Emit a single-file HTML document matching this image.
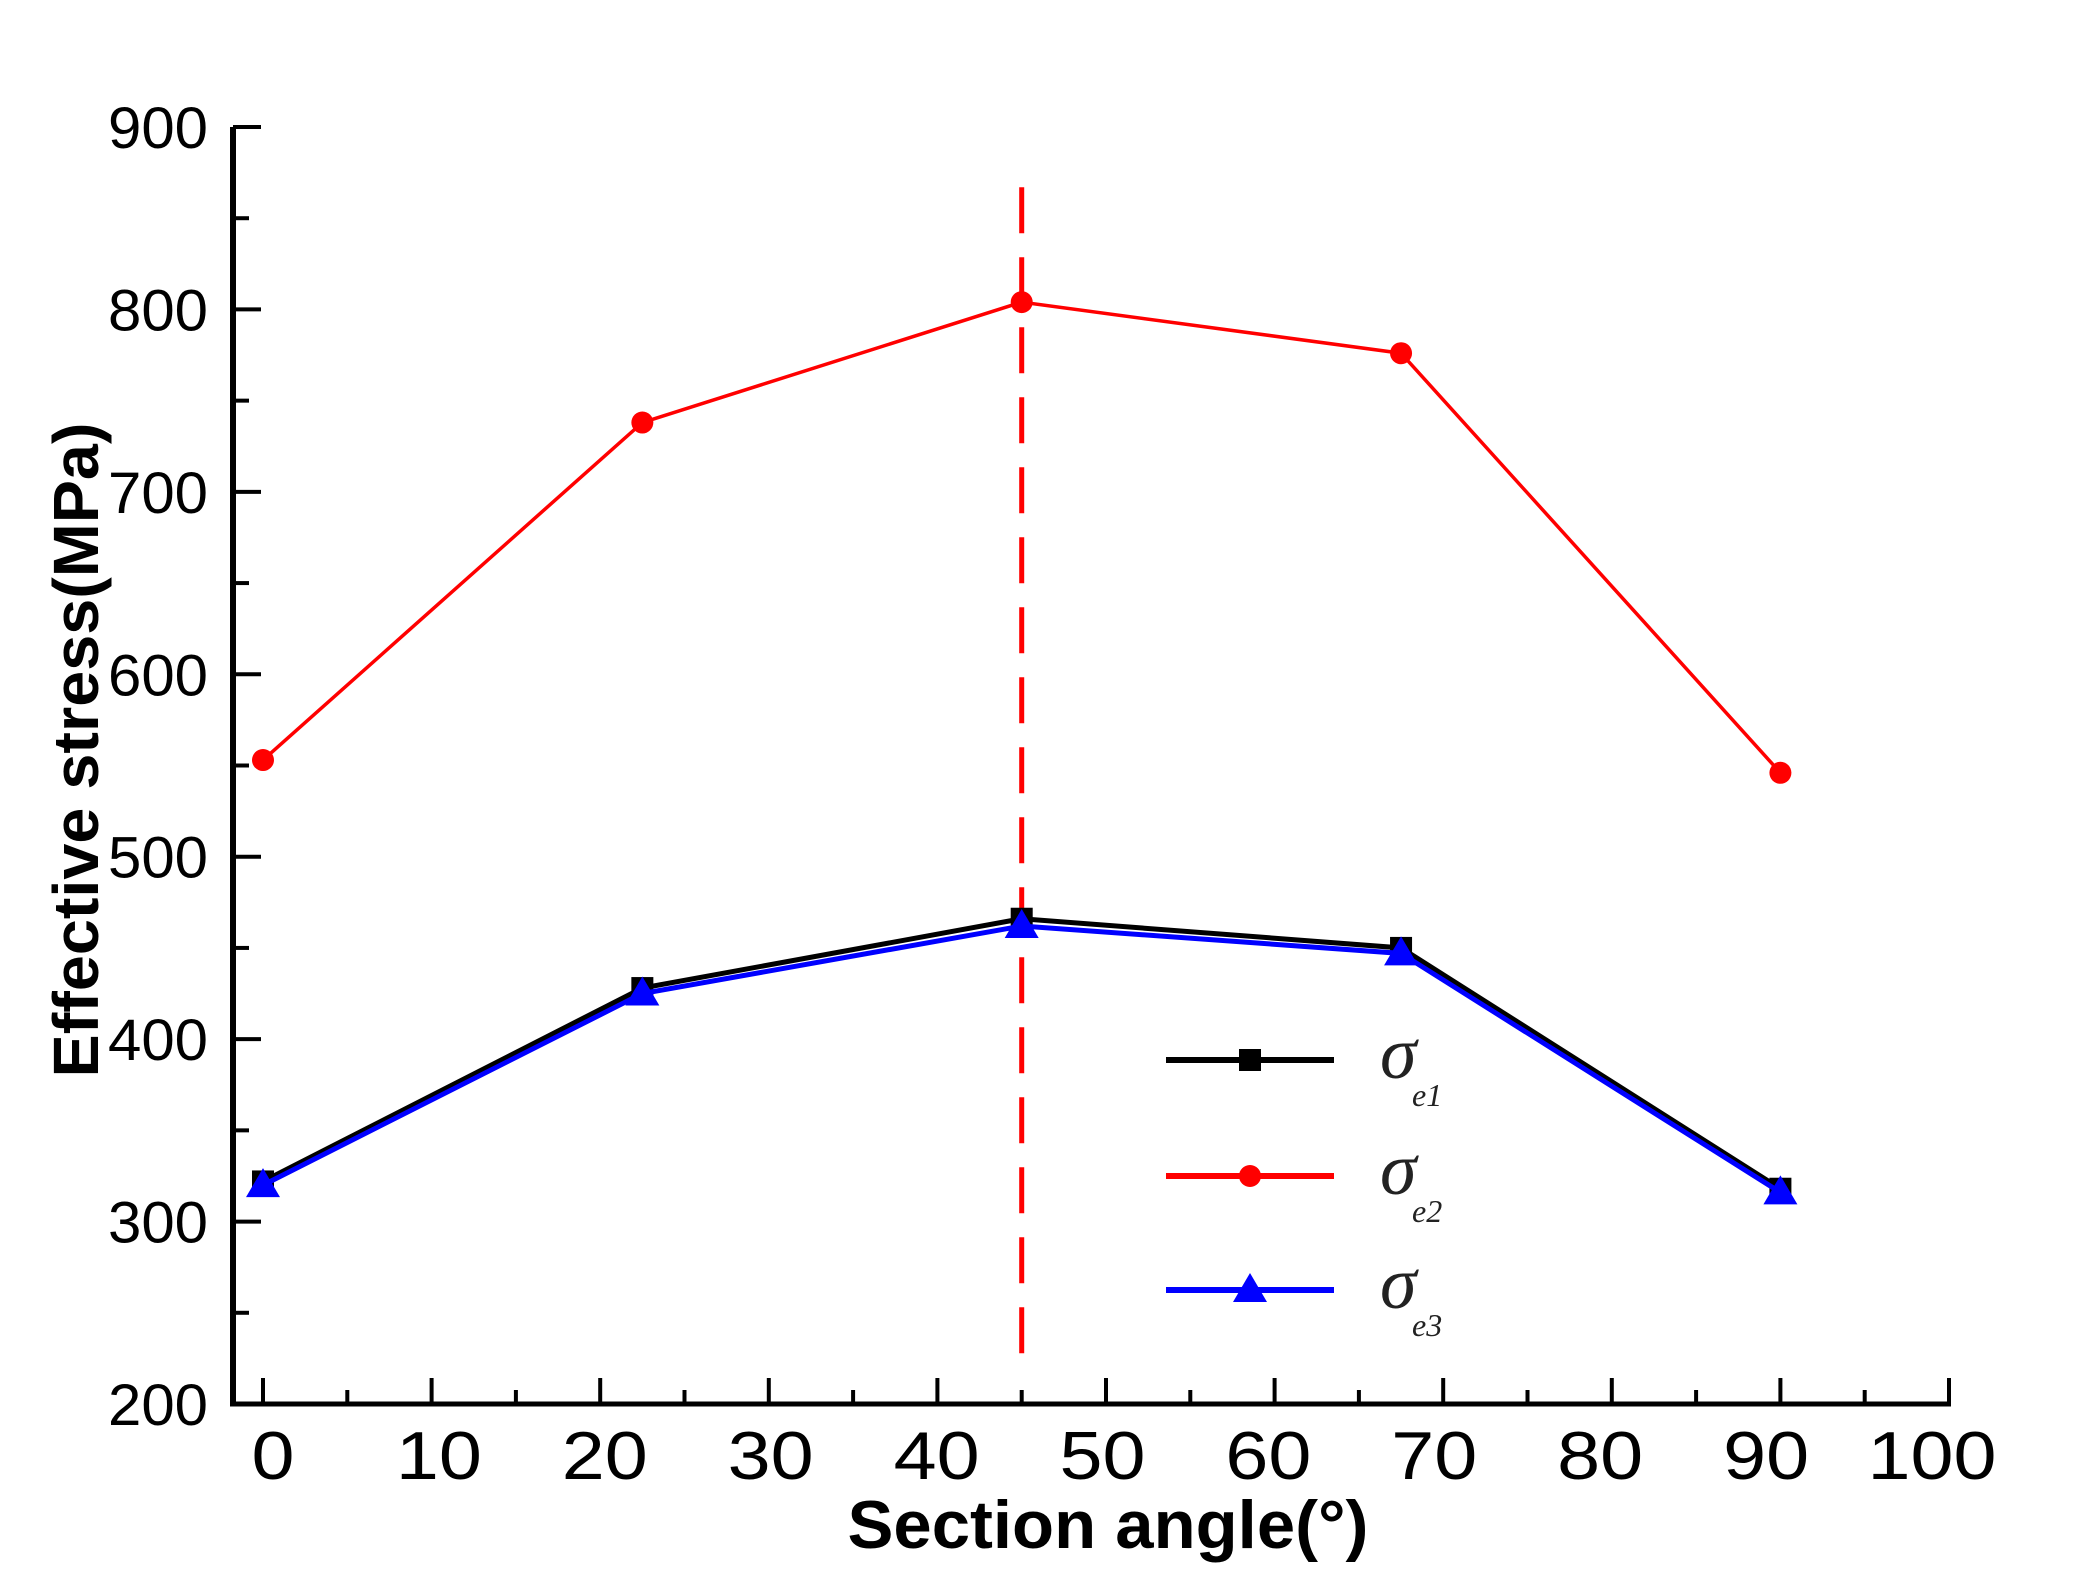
<!DOCTYPE html>
<html><head><meta charset="utf-8"><style>
html,body{margin:0;padding:0;background:#fff;}
svg{display:block;}
</style></head><body>
<svg id="chart" width="2090" height="1593" viewBox="0 0 2090 1593" xmlns="http://www.w3.org/2000/svg">
<g id="axes"></g>
<g id="series"></g>
<g id="legend"></g>
<text x="1108" y="1548" text-anchor="middle" font-family="Liberation Sans, sans-serif" font-weight="bold" font-size="68" textLength="521" lengthAdjust="spacingAndGlyphs">Section angle(°)</text>
<text transform="translate(98,750) rotate(-90)" text-anchor="middle" font-family="Liberation Sans, sans-serif" font-weight="bold" font-size="64" textLength="655" lengthAdjust="spacingAndGlyphs">Effective stress(MPa)</text>
</svg>
<script>
const categories = [0, 22.5, 45, 67.5, 90];
const sigma1 = [322, 428, 466, 450, 318];
const sigma2 = [553, 738, 804, 776, 546];
const sigma3 = [320, 425, 462, 447, 316];
const xTicks = [0, 10, 20, 30, 40, 50, 60, 70, 80, 90, 100];
const yTicks = [200, 300, 400, 500, 600, 700, 800, 900];
const markerAngle = 45;
const markerRange = [222, 867];

const NS = "http://www.w3.org/2000/svg";
const X0 = 263, X100 = 1949, AXL = 233, YT = 127, YB = 1404;
function xs(v){ return X0 + (X100 - X0) * v / 100; }
function ys(v){ return YB - (YB - YT) * (v - 200) / 700; }
function mk(tag, attrs, parent){
  const e = document.createElementNS(NS, tag);
  for (const k in attrs) e.setAttribute(k, attrs[k]);
  parent.appendChild(e);
  return e;
}
const axes = document.getElementById('axes');
const ser = document.getElementById('series');
const leg = document.getElementById('legend');

let yl = mk('line', {x1:AXL, y1:YT, x2:AXL, y2:YB+2, stroke:'#000', 'stroke-width':6}, axes);


let xl = mk('line', {x1:AXL-3, y1:YB, x2:X100+2, y2:YB, stroke:'#000', 'stroke-width':5}, axes);



for (let v = 200; v <= 900; v += 50) {
  const major = v % 100 === 0;
  const t = mk('line', {x1:AXL, y1:ys(v), x2:AXL + (major ? 28 : 16), y2:ys(v), stroke:'#000', 'stroke-width':4}, axes);
  
  
}
yTicks.forEach(v => {
  const t = mk('text', {x:208, y:ys(v) + 21, 'text-anchor':'end', 'font-family':'Liberation Sans, sans-serif', 'font-size':58, textLength:100, lengthAdjust:'spacingAndGlyphs'}, axes);
  t.textContent = v;
  
  
});
for (let v = 0; v <= 100; v += 5) {
  const major = v % 10 === 0;
  const t = mk('line', {x1:xs(v), y1:YB, x2:xs(v), y2:YB - (major ? 26 : 14), stroke:'#000', 'stroke-width':4}, axes);
  
  
}
xTicks.forEach(v => {
  const s = String(v);
  const t = mk('text', {x:xs(v) + 10 - v * 0.27, y:1479, 'text-anchor':'middle', 'font-family':'Liberation Sans, sans-serif', 'font-size':68, textLength:(s.length * 43), lengthAdjust:'spacingAndGlyphs'}, axes);
  t.textContent = s;
  
  
});

const dl = mk('line', {x1:xs(markerAngle), y1:ys(markerRange[1]), x2:xs(markerAngle), y2:ys(markerRange[0]), stroke:'#ff0000', 'stroke-width':5, 'stroke-dasharray':'46 24'}, ser);



function drawSeries(vals, color, w, marker, name){
  const pts = categories.map((c, i) => xs(c) + ',' + ys(vals[i])).join(' ');
  const pl = mk('polyline', {points:pts, fill:'none', stroke:color, 'stroke-width':w, 'stroke-linejoin':'miter'}, ser);
  
  
  categories.forEach((c, i) => {
    const m = drawMarker(marker, xs(c), ys(vals[i]), color, ser);
    
    
  });
}
function drawMarker(type, x, y, color, parent){
  if (type === 'square') return mk('rect', {x:x-11, y:y-11, width:22, height:22, fill:color}, parent);
  if (type === 'circle') return mk('circle', {cx:x, cy:y, r:11, fill:color}, parent);
  return mk('polygon', {points:(x-17)+','+(y+12)+' '+x+','+(y-17)+' '+(x+17)+','+(y+12), fill:color}, parent);
}
drawSeries(sigma2, '#ff0000', 3.5, 'circle', 'sigma-e2');
drawSeries(sigma1, '#000000', 5, 'square', 'sigma-e1');
drawSeries(sigma3, '#0000ff', 5, 'triangle', 'sigma-e3');

const legItems = [['#000000','square','1',1060,'legend-sigma-e1'],['#ff0000','circle','2',1176,'legend-sigma-e2'],['#0000ff','triangle','3',1290,'legend-sigma-e3']];
legItems.forEach(it => {
  const g = mk('g', {}, leg);
  
  
  mk('line', {x1:1166, y1:it[3], x2:1334, y2:it[3], stroke:it[0], 'stroke-width':6}, g);
  drawMarker(it[1], 1250, it[3], it[0], g);
  const t = mk('text', {x:1380, y:it[3] + 18, 'font-family':'Liberation Serif, serif', 'font-style':'italic', 'font-size':74, fill:'#222'}, g);
  t.textContent = 'σ';
  const s = mk('text', {x:1412, y:it[3] + 46, 'font-family':'Liberation Serif, serif', 'font-style':'italic', 'font-size':32, fill:'#222'}, g);
  s.textContent = 'e' + it[2];
});
</script>
</body></html>
